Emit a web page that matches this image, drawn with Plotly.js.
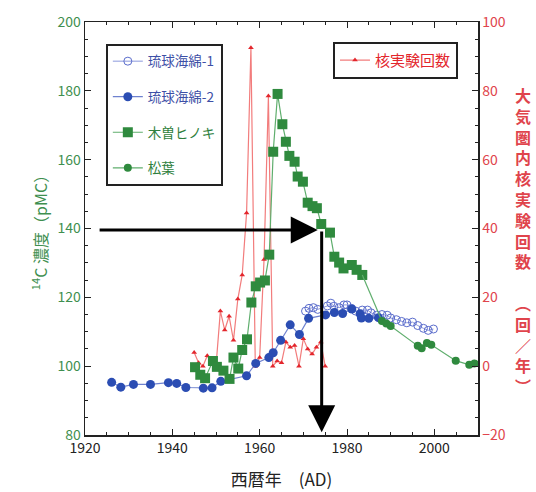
<!DOCTYPE html>
<html><head><meta charset="utf-8">
<script src="https://cdn.plot.ly/plotly-3.0.1.min.js"></script>
<style>html,body{margin:0;padding:0;background:#fff}#chart{width:536px;height:492px}</style>
</head><body><div id="chart"></div>
<script>
// 琉球海綿-1 (open circles)
const sponge1Years = [1970.5,1971.3,1972.3,1973.3,1975.5,1976.3,1977.0,1978.2,1979.3,1980.0,1981.0,1982.0,1983.5,1984.7,1985.5,1986.8,1988.0,1989.2,1990.0,1991.3,1992.5,1993.7,1995.0,1996.2,1997.5,1998.6,1999.8];
const sponge1Values = [116.0,116.8,117.0,116.5,117.5,118.3,117.4,117.0,117.8,117.8,116.8,116.0,116.3,116.3,115.5,114.8,115.0,114.8,114.0,113.5,113.0,112.6,112.8,111.8,111.0,110.4,110.8];
// 琉球海綿-2 (filled circles)
const sponge2Years = [1926.1,1928.2,1931.1,1935.0,1939.1,1941.0,1943.1,1947.1,1949.1,1951.1,1957.0,1959.1,1962.1,1963.1,1964.8,1967.0,1969.1,1971.2,1975.1,1977.1,1979.0,1981.1,1983.0,1983.3,1985.0,1987.2];
const sponge2Values = [95.3,93.9,94.7,94.7,95.2,95.0,93.8,93.6,93.7,95.6,97.2,100.8,102.5,103.9,107.5,112.0,109.2,113.9,114.9,115.6,115.3,116.6,115.2,114.0,113.9,114.1];
// 木曽ヒノキ (squares)
const hinokiYears = [1945.2,1946.4,1947.5,1949.3,1950.2,1951.7,1953.1,1954.0,1955.1,1956.0,1957.1,1958.1,1959.1,1960.1,1961.2,1962.2,1963.1,1964.1,1965.2,1966.0,1966.8,1968.0,1968.7,1969.9,1971.0,1972.1,1973.1,1974.1,1976.1,1977.1,1978.2,1979.2,1981.1,1982.2,1983.5];
const hinokiValues = [99.7,97.5,96.5,101.5,99.8,98.7,96.3,102.5,99.3,104.7,107.8,118.5,123.2,124.3,124.9,132.4,162.3,179.1,170.3,165.2,161.1,159.4,155.1,153.6,147.5,146.5,145.9,141.3,138.8,131.8,130.1,128.4,129.4,128.0,126.5];
// 松葉 (small filled circles)
const pineYears = [1988.0,1989.0,1990.0,1996.2,1997.1,1998.3,1999.3,2004.9,2008.0,2009.2];
const pineValues = [113.1,112.4,111.7,105.9,105.2,106.7,106.2,101.6,100.4,100.8];
// 核実験回数 (right axis)
const testYears = [1945,1946,1947,1948,1949,1950,1951,1952,1953,1954,1955,1956,1957,1958,1959,1960,1961,1962,1963,1964,1965,1966,1967,1968,1969,1970,1971,1972,1973,1974,1975];
const testCounts = [4,1,0,3,1,0,16,10.5,14.5,7.5,19.5,26.5,44.5,92.5,0,2.5,31,78.5,0,1.5,1,7,5.5,6,0,8,5,3.5,5.5,7,0];

const leftTicks = [80,100,120,140,160,180,200];
const rightTicks = [-20,0,20,40,60,80,100];
const xTicks = [1920,1940,1960,1980,2000];

const F = '"Noto Sans CJK JP", "Noto Sans", sans-serif';
const green = '#2f8a3e', greenLine = '#5fae6d';
const blue = '#2b4db3', blueLine = '#6f82cf';
const red = '#e3262c', redLine = '#f27c7c';

const traces = [
  {name:'核実験回数', x:testYears, y:testCounts, yaxis:'y', mode:'lines+markers',
   line:{color:redLine,width:1.2}, marker:{symbol:'triangle-up',size:5,color:red}, legend:'legend2'},
  {name:'琉球海綿-1', x:sponge1Years, y:sponge1Values, yaxis:'y2', mode:'lines+markers',
   line:{color:'#8b98dc',width:1}, marker:{symbol:'circle-open',size:8,color:'#5a6ccc',line:{width:1}}, legendgroup:'a', legend:'legend'},
  {name:'琉球海綿-2', x:sponge2Years, y:sponge2Values, yaxis:'y2', mode:'lines+markers',
   line:{color:blueLine,width:1.2}, marker:{symbol:'circle',size:9,color:blue}, legendgroup:'b', legend:'legend'},
  {name:'木曽ヒノキ', x:hinokiYears, y:hinokiValues, yaxis:'y2', mode:'lines+markers',
   line:{color:greenLine,width:1.2}, marker:{symbol:'square',size:10,color:green}, legendgroup:'c', legend:'legend'},
  {name:'link', x:[hinokiYears[hinokiYears.length-1], pineYears[0]], y:[hinokiValues[hinokiValues.length-1], pineValues[0]],
   yaxis:'y2', mode:'lines', line:{color:greenLine,width:1.2}, showlegend:false, hoverinfo:'skip'},
  {name:'松葉', x:pineYears, y:pineValues, yaxis:'y2', mode:'lines+markers',
   line:{color:greenLine,width:1.2}, marker:{symbol:'circle',size:8,color:green}, legendgroup:'d', legend:'legend'}
];

const axisCommon = {showline:true, linecolor:'#222', linewidth:1.5, ticks:'inside', ticklen:6, tickcolor:'#222',
  showgrid:false, zeroline:false};

const layout = {
  width:536, height:492, margin:{l:85, r:58, t:22, b:57},
  paper_bgcolor:'#fff', plot_bgcolor:'#fff',
  font:{family:F, size:14, color:'#222'},
  showlegend:true,
  xaxis:Object.assign({}, axisCommon, {range:[1920,2010], tickvals:xTicks, mirror:'ticks',
    minor:{dtick:5, ticklen:3, ticks:'inside', tickcolor:'#222'},
    tickfont:{size:14, color:'#222', family:F},
    title:{text:'西暦年　(AD)', font:{size:17, color:'#222', family:F}, standoff:18}}),
  yaxis:Object.assign({}, axisCommon, {range:[-20,100], tickvals:rightTicks, side:'right',
    minor:{dtick:5, ticklen:3, ticks:'inside', tickcolor:'#222'},
    tickfont:{size:14, color:'#e0444c', family:F}}),
  yaxis2:Object.assign({}, axisCommon, {range:[80,200], tickvals:leftTicks, side:'left', overlaying:'y',
    minor:{dtick:5, ticklen:3, ticks:'inside', tickcolor:'#222'},
    tickfont:{size:14, color:'#3f8f50', family:F},
    title:{text:'<sup>14</sup>C 濃度（pMC）', font:{size:16, color:'#3f8f50', family:F}, standoff:6}}),
  legend:{x:0.053, y:0.947, xanchor:'left', yanchor:'top', bordercolor:'#222', borderwidth:2, bgcolor:'#fff',
    font:{size:13.5, family:F}, traceorder:'grouped', tracegroupgap:15},
  legend2:{x:0.631, y:0.952, xanchor:'left', yanchor:'top', bordercolor:'#222', borderwidth:2, bgcolor:'#fff',
    font:{size:15, family:F, color:red}, entrywidth:138},
  annotations:[
    {xref:'x', yref:'y2', axref:'x', ayref:'y2', x:1973.3, y:139.6, ax:1923, ay:139.6, text:'',
     showarrow:true, arrowhead:2, arrowsize:1.8, arrowwidth:3, arrowcolor:'#000', standoff:0},
    {xref:'x', yref:'y2', axref:'x', ayref:'y2', x:1974.2, y:80.8, ax:1974.2, ay:139.6, text:'',
     showarrow:true, arrowhead:2, arrowsize:1.8, arrowwidth:3, arrowcolor:'#000', standoff:0},
    {xref:'paper', yref:'paper', x:1.114, y:0.472, xanchor:'center', yanchor:'middle', showarrow:false,
     text:'<b>大<br>気<br>圏<br>内<br>核<br>実<br>験<br>回<br>数<br> <br>︵<br>回<br>／<br>年<br>︶</b>',
     font:{size:16, color:'#e0444c', family:F}}
  ]
};

Plotly.newPlot('chart', traces, layout, {displayModeBar:false, staticPlot:true}).then(() => {
  const colors = {'琉球海綿-1':'#3d4fa6','琉球海綿-2':'#3d4fa6','木曽ヒノキ':'#2f7f3d','松葉':'#2f7f3d','核実験回数':red};
  document.querySelectorAll('.legendtext').forEach(t => {
    const c = colors[t.textContent];
    if (c) t.style.fill = c;
  });
});
</script></body></html>
